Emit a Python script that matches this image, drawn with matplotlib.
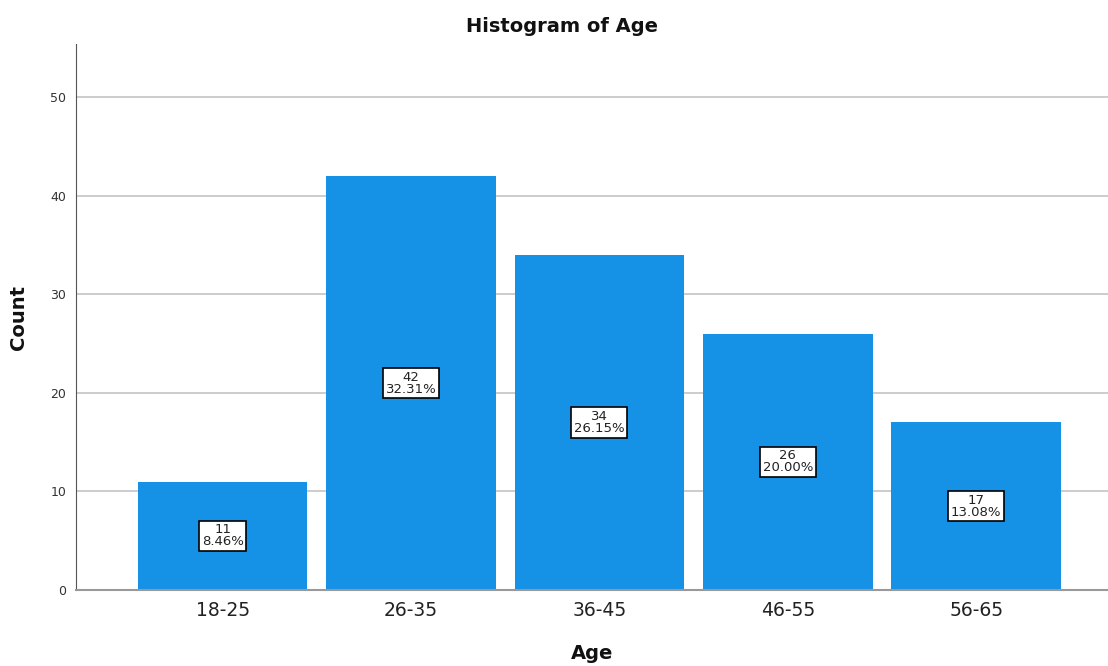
import matplotlib
matplotlib.use('Agg')
import matplotlib.pyplot as plt
import numpy as np

# histogram bins and counts
ageGroups = ['18-25', '26-35', '36-45', '46-55', '56-65']
counts = [11, 42, 34, 26, 17]
percents = ['8.46%', '32.31%', '26.15%', '20.00%', '13.08%']
yTicks = [0, 10, 20, 30, 40, 50]

plt.rcParams['font.family'] = ['DejaVu Sans']

fig = plt.figure(figsize=(11.08, 6.66), dpi=100)
ax = fig.add_axes([76/1108, 1 - 590/666, (1108-76)/1108, (590-44)/666])

x = np.arange(len(ageGroups))
ax.bar(x, counts, width=0.9, color='#1591e6', zorder=2)

for i, c in enumerate(counts):
    ax.text(x[i], c / 2, str(c) + '\n' + percents[i], ha='center', va='center',
            fontsize=9.5, linespacing=0.9, zorder=3, color='#222222',
            bbox=dict(boxstyle='square,pad=0.2', facecolor='white', edgecolor='black', linewidth=1.2))

ax.set_xlim(-0.778, 4.70)
ax.set_ylim(0, 55.4)
ax.set_xticks(x)
ax.set_xticklabels(ageGroups, fontsize=13.5, color='#222222')
ax.set_yticks(yTicks)
ax.set_yticklabels([str(t) for t in yTicks], fontsize=9, color='#333333')
ax.tick_params(axis='both', length=0)
ax.tick_params(axis='x', pad=8)
ax.tick_params(axis='y', pad=7)

for t in yTicks[1:]:
    ax.axhline(t, color='#c4c4c4', linewidth=1.2, zorder=1)

ax.spines['top'].set_visible(False)
ax.spines['right'].set_visible(False)
ax.spines['left'].set_color('#555555')
ax.spines['bottom'].set_color('#999999')
ax.spines['bottom'].set_linewidth(1.5)

fig.text(562/1108, 1 - 27/666, 'Histogram of Age', fontsize=14, fontweight='bold',
         ha='center', va='center', color='#111111')
ax.set_xlabel('Age', fontsize=14, fontweight='bold', labelpad=17, color='#111111')
ax.set_ylabel('Count', fontsize=14, fontweight='bold', labelpad=16, color='#111111')

plt.savefig('out.png', dpi=100)
